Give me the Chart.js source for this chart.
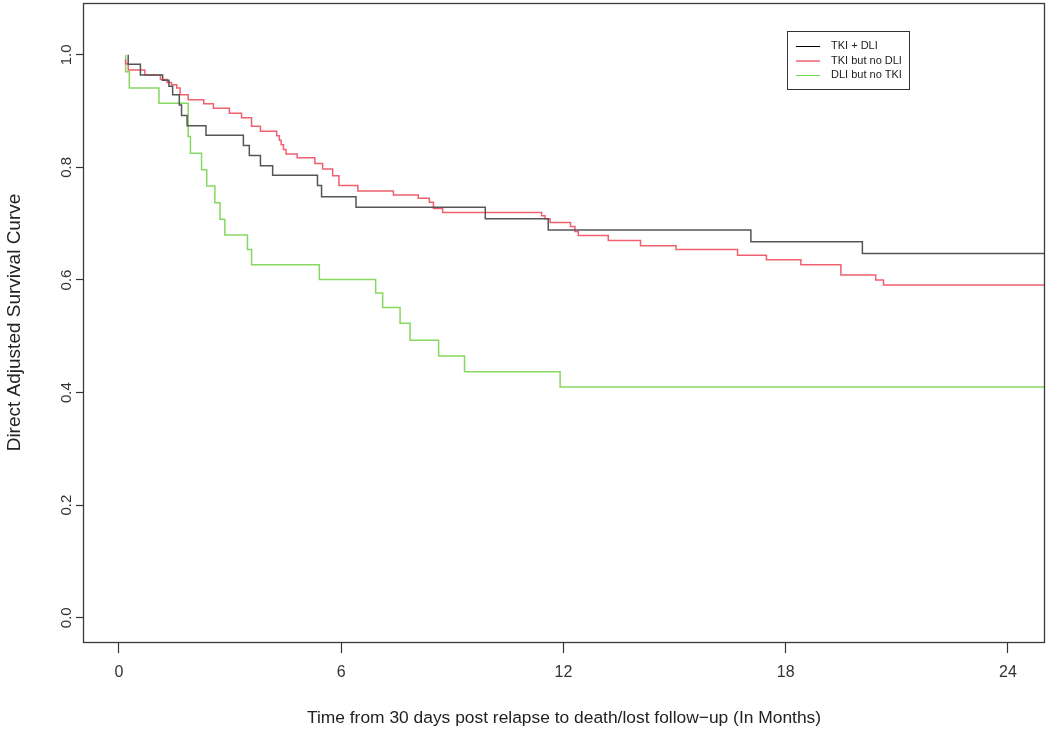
<!DOCTYPE html>
<html>
<head>
<meta charset="utf-8">
<script src="https://cdn.jsdelivr.net/npm/chart.js@4.4.1/dist/chart.umd.min.js"></script>
<style>
  html, body { margin: 0; padding: 0; background: #fff; }
</style>
</head>
<body>
<canvas id="graficaSupervivencia" width="1050" height="733"></canvas>
<script>
// 1. Datos (meses, supervivencia ajustada)
const grupos = ['TKI + DLI', 'TKI but no DLI', 'DLI but no TKI'];

const mesesTkiDli = [0.25, 0.58, 1.18, 1.35, 1.45, 1.63, 1.69, 1.84, 2.35, 3.36, 3.52, 3.82, 4.15, 5.36, 5.47, 6.40, 9.89, 11.59, 17.06, 20.07, 22.08, 25];
const survTkiDli  = [1.000, 0.983, 0.964, 0.955, 0.944, 0.929, 0.911, 0.892, 0.874, 0.857, 0.839, 0.821, 0.803, 0.786, 0.768, 0.748, 0.729, 0.709, 0.689, 0.668, 0.647, 0.647];

const mesesTkiSinDli = [0.18, 0.25, 0.70, 1.12, 1.30, 1.42, 1.56, 1.65, 1.87, 2.29, 2.55, 2.98, 3.31, 3.58, 3.82, 4.26, 4.33, 4.38, 4.44, 4.51, 4.81, 5.29, 5.50, 5.77, 5.94, 6.45, 7.41, 8.08, 8.38, 8.49, 8.74, 11.41, 11.50, 11.64, 12.19, 12.31, 12.40, 13.21, 14.08, 15.04, 16.70, 17.48, 18.41, 19.49, 20.43, 20.64, 21.73, 25];
const survTkiSinDli  = [0.992, 0.984, 0.973, 0.964, 0.956, 0.951, 0.947, 0.941, 0.929, 0.920, 0.913, 0.905, 0.896, 0.888, 0.873, 0.864, 0.856, 0.848, 0.840, 0.832, 0.824, 0.817, 0.807, 0.797, 0.785, 0.768, 0.758, 0.751, 0.745, 0.738, 0.727, 0.720, 0.714, 0.709, 0.702, 0.695, 0.686, 0.679, 0.670, 0.661, 0.654, 0.644, 0.636, 0.627, 0.609, 0.600, 0.591, 0.591];

const mesesDliSinTki = [0.18, 0.28, 1.08, 1.87, 1.93, 2.23, 2.37, 2.59, 2.73, 2.86, 3.47, 3.58, 5.41, 6.93, 7.12, 7.59, 7.86, 8.63, 9.33, 11.91, 17.42, 25];
const survDliSinTki  = [1.000, 0.970, 0.941, 0.914, 0.855, 0.825, 0.796, 0.767, 0.737, 0.708, 0.680, 0.654, 0.627, 0.601, 0.577, 0.551, 0.523, 0.493, 0.465, 0.437, 0.410, 0.410];

const ticksMeses = [0, 6, 12, 18, 24];
const ticksSurv = [0, 0.2, 0.4, 0.6, 0.8, 1.0];

const coloresLinea = ['#555555', '#f0606e', '#86d860'];
const coloresLeyenda = ['#000000', '#e8102e', '#6fd83a'];
const fuente = '"Liberation Sans", Arial, sans-serif';

function puntos(meses, surv) {
    return meses.map((m, i) => ({ x: m, y: surv[i] }));
}

// 2. Caja alrededor del area y leyenda con borde (estilo R)
const marcoPlot = {
    id: 'marcoPlot',
    afterDraw(chart) {
        const { ctx, chartArea: a } = chart;
        ctx.save();
        ctx.strokeStyle = '#3a3a3a';
        ctx.lineWidth = 1.3;
        ctx.strokeRect(a.left + 0.5, a.top + 0.5, a.right - a.left - 1, a.bottom - a.top);

        // leyenda
        ctx.lineWidth = 1;
        ctx.strokeStyle = '#333';
        ctx.strokeRect(787.5, 31.5, 122, 58);
        ctx.font = '11px ' + fuente;
        ctx.textBaseline = 'middle';
        ctx.textAlign = 'left';
        chart.data.datasets.forEach((ds, i) => {
            const y = 46 + i * 14.5;
            ctx.strokeStyle = coloresLeyenda[i];
            ctx.beginPath();
            ctx.moveTo(796, y + 0.5);
            ctx.lineTo(820, y + 0.5);
            ctx.stroke();
            ctx.fillStyle = '#222';
            ctx.fillText(ds.label, 831, y);
        });
        ctx.restore();
    }
};

// 3. Grafica
function crearGrafica() {
    const ctx = document.getElementById('graficaSupervivencia').getContext('2d');
    const series = [
        puntos(mesesTkiDli, survTkiDli),
        puntos(mesesTkiSinDli, survTkiSinDli),
        puntos(mesesDliSinTki, survDliSinTki)
    ];
    new Chart(ctx, {
        type: 'line',
        data: {
            datasets: series.map((d, i) => ({
                label: grupos[i],
                data: d,
                borderColor: coloresLinea[i],
                borderWidth: 1.5,
                stepped: 'after',
                pointRadius: 0,
                fill: false
            }))
        },
        options: {
            responsive: false,
            animation: false,
            devicePixelRatio: 1,
            layout: { padding: { top: 3, right: 5, left: 0, bottom: 0 } },
            plugins: { legend: { display: false }, tooltip: { enabled: false } },
            scales: {
                x: {
                    type: 'linear',
                    min: -0.97,
                    max: 25,
                    afterBuildTicks: s => { s.ticks = ticksMeses.map(v => ({ value: v })); },
                    afterFit: s => { s.height = 91; s.paddingLeft = 0; s.paddingRight = 0; },
                    grid: { drawOnChartArea: false, drawTicks: true, tickLength: 11, color: '#333', tickWidth: 1.2 },
                    border: { display: false },
                    ticks: {
                        color: '#333',
                        font: { family: fuente, size: 16 },
                        padding: 10,
                        maxRotation: 0,
                        callback: v => String(v)
                    },
                    title: {
                        display: true,
                        text: 'Time from 30 days post relapse to death/lost follow\u2212up (In Months)',
                        color: '#222',
                        font: { family: fuente, size: 17.4 },
                        padding: { bottom: 4 }
                    }
                },
                y: {
                    type: 'linear',
                    min: -0.043,
                    max: 1.092,
                    afterBuildTicks: s => { s.ticks = ticksSurv.map(v => ({ value: v })); },
                    afterFit: s => { s.width = 83; s.paddingTop = 0; s.paddingBottom = 0; },
                    grid: { drawOnChartArea: false, drawTicks: true, tickLength: 7, color: '#333', tickWidth: 1.2 },
                    border: { display: false },
                    ticks: {
                        color: '#333',
                        font: { family: fuente, size: 15 },
                        padding: -1,
                        minRotation: 90,
                        maxRotation: 90,
                        crossAlign: 'center',
                        callback: v => Number(v).toFixed(1)
                    },
                    title: {
                        display: true,
                        text: 'Direct Adjusted Survival Curve',
                        color: '#222',
                        font: { family: fuente, size: 19 },
                        padding: { top: 3 }
                    }
                }
            }
        },
        plugins: [marcoPlot]
    });
}

crearGrafica();
</script>
</body>
</html>
